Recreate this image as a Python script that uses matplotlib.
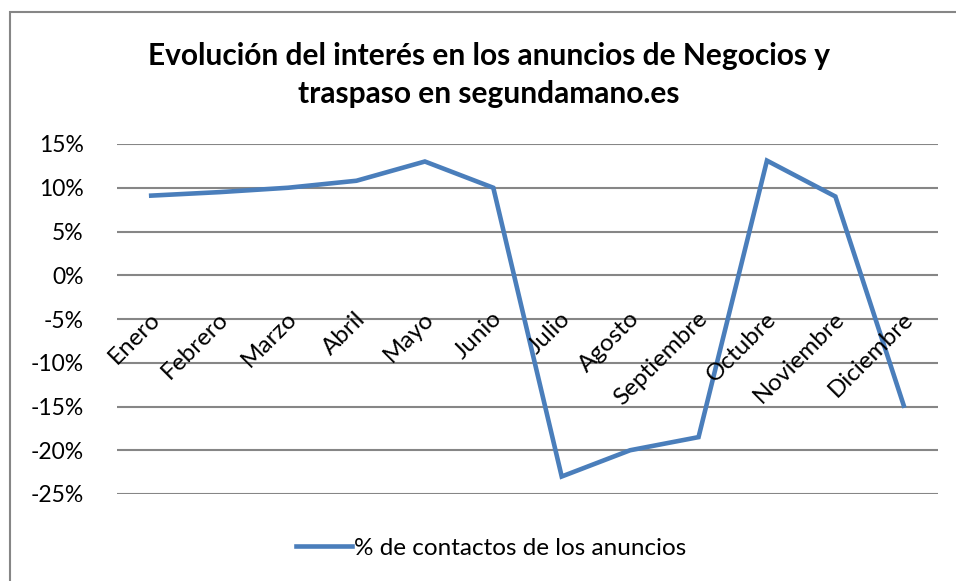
import numpy as np
import matplotlib
matplotlib.use("Agg")
import matplotlib.pyplot as plt
from matplotlib.patches import Rectangle

plt.rcParams['font.family'] = ['Lato', 'DejaVu Sans']

meses = ["Enero", "Febrero", "Marzo", "Abril", "Mayo", "Junio", "Julio",
         "Agosto", "Septiembre", "Octubre", "Noviembre", "Diciembre"]
contactos = [9.1, 9.5, 10.0, 10.8, 13.0, 10.0, -23.0, -20.0, -18.5, 13.1, 9.0, -14.9]
yticks = [15, 10, 5, 0, -5, -10, -15, -20, -25]

fig = plt.figure(figsize=(9.56, 5.81), dpi=100)
ax = fig.add_axes([117 / 956, 1 - 494 / 581, (938 - 117) / 956, 350 / 581])

x = np.arange(len(meses))
ax.plot(x, contactos, color="#4A7EBB", lw=3.3, solid_joinstyle="miter",
        label="% de contactos de los anuncios")

ax.set_xlim(-0.5, 11.5)
ax.set_ylim(-25, 15)
ax.set_yticks(yticks)
ax.set_yticklabels(["{}%".format(v) for v in yticks], fontsize=16.5)
ax.tick_params(axis="y", length=0, pad=24)
ax.set_xticks([])
for s in ax.spines.values():
    s.set_visible(False)
ax.grid(axis="y", color="#868686", lw=1.5)
ax.set_axisbelow(True)

for i, m in enumerate(meses):
    ax.text(i + 0.08, -4.6, m, rotation=45, rotation_mode="anchor",
            ha="right", va="center", fontsize=17.5)

fig.text(0.511, 1 - 75 / 581, "Evolución del interés en los anuncios de Negocios y\ntraspaso en segundamano.es",
         ha="center", va="center", fontsize=21.5, fontweight="bold", linespacing=1.42)

fig.legend(loc="center", bbox_to_anchor=(0.514, 1 - 548 / 581), frameon=False,
           fontsize=17.5, handlelength=2.3, handletextpad=0.1)

fig.patches.append(Rectangle((9.5 / 956, -0.1), 1.2, 1.1 - 12.5 / 581,
                             fill=False, edgecolor="#868686", lw=1.5,
                             transform=fig.transFigure))

fig.savefig("out.png", dpi=100)
